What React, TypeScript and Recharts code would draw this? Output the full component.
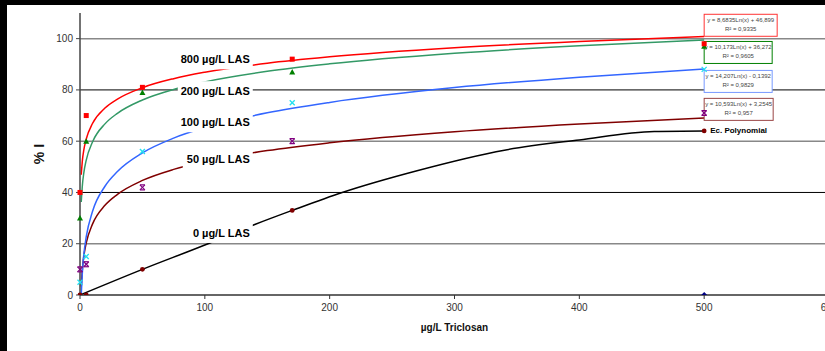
import React from "react";
import {
  ComposedChart,
  Line,
  Scatter,
  XAxis,
  YAxis,
  ReferenceLine,
  ReferenceDot,
} from "recharts";

// measured points (µg/L triclosan vs % inhibition)
const conc = [0, 5, 50, 170, 500];
const las800 = [40, 70, 81, 92, 98];
const las200 = [30, 60, 79, 87, 97];
const las100 = [5, 15, 56, 75, 88];
const las50 = [10, 12, 42, 60, 71];
const las0 = [0, 0, 10, 33, 64];
const ctrlX = [500];
const ctrlY = [0];

// log trendlines
const fitX = [1, 2, 3, 5, 10, 20, 30, 50, 75, 100, 150, 200, 300, 400, 500];
const fit800 = [46.9, 52.92, 56.44, 60.87, 66.89, 72.91, 76.43, 80.87, 84.39, 86.89, 90.41, 92.9, 96.43, 98.92, 100.87];
const fit200 = [36.27, 43.32, 47.45, 52.64, 59.69, 66.75, 70.87, 76.07, 80.19, 83.12, 87.24, 90.17, 94.3, 97.22, 99.49];
const fit100 = [-0.14, 9.71, 15.47, 22.73, 32.57, 42.42, 48.18, 55.44, 61.2, 65.29, 71.05, 75.13, 80.9, 84.97, 88.15];
const fit50 = [3.25, 10.6, 14.89, 20.3, 27.65, 34.99, 39.28, 44.69, 48.99, 52.04, 56.33, 59.38, 63.68, 66.72, 69.09];

// polynomial line for 0 µg/L LAS
const polyX = [0, 50, 100, 140, 170, 210, 270, 340, 400, 460, 500];
const poly0 = [0, 10, 19.5, 27.5, 33, 40, 48.5, 56.5, 60.5, 63.8, 64];

const xTicks = [0, 100, 200, 300, 400, 500, 600];
const yTicks = [0, 20, 40, 60, 80, 100];

const curveNames = ["800 µg/L LAS", "200 µg/L LAS", "100 µg/L LAS", "50 µg/L LAS", "0 µg/L LAS"];
const curveTagX = [136, 136, 136, 136, 136];
const curveTagY = [91.9, 79.5, 67.4, 53, 24.2];
const curveTagW = [75, 75, 75, 70, 64];

const equations = [
  "y = 8,6835Ln(x) + 46,899",
  "y = 10,173Ln(x) + 36,272",
  "y = 14,207Ln(x) - 0,1392",
  "y = 10,593Ln(x) + 3,2545",
];
const rSquared = ["R² = 0,9335", "R² = 0,9605", "R² = 0,9829", "R² = 0,957"];
const eqTop = [109.5, 98.9, 87.6, 76.7];
const eqW = [73, 68, 68, 69];
const eqColors = ["#ff3333", "#008000", "#7799ff", "#994444"];

const FONT = "Arial, 'Liberation Sans', sans-serif";

const pts = (xs: number[], ys: number[]) => xs.map((x, i) => ({ x, y: ys[i] }));

const square = (color: string) => (p: any) => (
  <rect x={p.cx - 2.5} y={p.cy - 2.5} width={5} height={5} fill={color} />
);
const triangle = (p: any) => (
  <polygon points={`${p.cx},${p.cy - 3} ${p.cx + 3},${p.cy + 2.5} ${p.cx - 3},${p.cy + 2.5}`} fill="#008000" />
);
const cross = (p: any) => (
  <g stroke="#22e0f0" strokeWidth={1.3}>
    <line x1={p.cx - 2.5} y1={p.cy - 2.5} x2={p.cx + 2.5} y2={p.cy + 2.5} />
    <line x1={p.cx - 2.5} y1={p.cy + 2.5} x2={p.cx + 2.5} y2={p.cy - 2.5} />
  </g>
);
const star = (p: any) => (
  <g stroke="#800080" strokeWidth={1.2}>
    <line x1={p.cx - 2.5} y1={p.cy - 2.5} x2={p.cx + 2.5} y2={p.cy + 2.5} />
    <line x1={p.cx - 2.5} y1={p.cy + 2.5} x2={p.cx + 2.5} y2={p.cy - 2.5} />
    <line x1={p.cx - 2.5} y1={p.cy - 2.5} x2={p.cx + 2.5} y2={p.cy - 2.5} />
    <line x1={p.cx - 2.5} y1={p.cy + 2.5} x2={p.cx + 2.5} y2={p.cy + 2.5} />
  </g>
);
const dot = (p: any) => <circle cx={p.cx} cy={p.cy} r={2.4} fill="#800000" />;
const diamond = (p: any) => (
  <polygon points={`${p.cx},${p.cy - 3} ${p.cx + 3},${p.cy} ${p.cx},${p.cy + 3} ${p.cx - 3},${p.cy}`} fill="#000080" />
);

const curveTag = (text: string, w: number) => (p: any) => (
  <g>
    <rect x={p.cx - w + 3} y={p.cy - 10} width={w} height={20} fill="#fff" />
    <text x={p.cx} y={p.cy} textAnchor="end" dominantBaseline="central" fontFamily={FONT} fontSize={11} fontWeight="bold" fill="#000">
      {text}
    </text>
  </g>
);

const eqBox = (i: number) => (p: any) => (
  <g>
    <rect x={p.cx} y={p.cy} width={eqW[i]} height={22} fill="#fff" stroke={eqColors[i]} strokeWidth={1} />
    <text x={p.cx + eqW[i] / 2} y={p.cy + 8} textAnchor="middle" fontFamily={FONT} fontSize={6} fill="#444">
      {equations[i]}
    </text>
    <text x={p.cx + eqW[i] / 2} y={p.cy + 17} textAnchor="middle" fontFamily={FONT} fontSize={6} fill="#444">
      {rSquared[i]}
    </text>
  </g>
);

const polyTag = (p: any) => (
  <text x={p.cx + 6} y={p.cy} dominantBaseline="central" fontFamily={FONT} fontSize={8} fontWeight="bold" fill="#000">
    Ec. Polynomial
  </text>
);

export default function App() {
  return (
    <div style={{ position: "fixed", left: 0, top: 0, width: 825, height: 351, overflow: "hidden", background: "#000" }}>
      <div style={{ position: "absolute", left: 7, top: 5, width: 860, height: 346, background: "#fff" }}>
        <ComposedChart width={840} height={346} margin={{ top: 8, right: 18, bottom: 16, left: 33 }}>
          <XAxis
            dataKey="x"
            type="number"
            domain={[0, 600]}
            ticks={xTicks}
            height={40}
            tickSize={4}
            tickMargin={5}
            axisLine={{ stroke: "#333", strokeWidth: 1.5 }}
            tickLine={{ stroke: "#333" }}
            tick={{ fontSize: 10, fill: "#333", fontFamily: FONT }}
            label={{ value: "µg/L Triclosan", position: "insideBottom", offset: 4, fontSize: 10, fontWeight: "bold", fill: "#111", fontFamily: FONT }}
          />
          <YAxis
            type="number"
            domain={[0, 110]}
            allowDataOverflow
            ticks={yTicks}
            width={40}
            tickSize={4}
            tickMargin={3}
            axisLine={{ stroke: "#444", strokeWidth: 1.5 }}
            tickLine={{ stroke: "#444" }}
            tick={{ fontSize: 10, fill: "#333", fontFamily: FONT }}
            label={{ value: "% I", angle: -90, position: "insideLeft", offset: -1, fontSize: 14, fontWeight: "bold", fill: "#111", fontFamily: FONT, style: { textAnchor: "middle" } }}
          />
          {[20, 60, 100].map((v) => (
            <ReferenceLine key={v} y={v} stroke="#888" strokeWidth={1.5} />
          ))}
          {[40, 80].map((v) => (
            <ReferenceLine key={v} y={v} stroke="#000" strokeWidth={1} />
          ))}

          <Line data={pts(polyX, poly0)} dataKey="y" type="monotone" stroke="#000" strokeWidth={1.5} dot={false} isAnimationActive={false} />
          <Line data={pts(fitX, fit50)} dataKey="y" type="monotone" stroke="#800000" strokeWidth={1.5} dot={false} isAnimationActive={false} />
          <Line data={pts(fitX, fit100)} dataKey="y" type="monotone" stroke="#3366ff" strokeWidth={1.5} dot={false} isAnimationActive={false} />
          <Line data={pts(fitX, fit200)} dataKey="y" type="monotone" stroke="#339966" strokeWidth={1.5} dot={false} isAnimationActive={false} />
          <Line data={pts(fitX, fit800)} dataKey="y" type="monotone" stroke="#ff0000" strokeWidth={1.5} dot={false} isAnimationActive={false} />

          {curveNames.map((n, i) => (
            <ReferenceDot key={n} x={curveTagX[i]} y={curveTagY[i]} r={0} ifOverflow="visible" shape={curveTag(n, curveTagW[i])} />
          ))}
          {equations.map((e, i) => (
            <ReferenceDot key={e} x={500} y={eqTop[i]} r={0} ifOverflow="visible" shape={eqBox(i)} />
          ))}
          <ReferenceDot x={500} y={64} r={0} ifOverflow="visible" shape={polyTag} />

          <Scatter data={pts(conc, las0)} dataKey="y" shape={dot} isAnimationActive={false} />
          <Scatter data={pts(ctrlX, ctrlY)} dataKey="y" shape={diamond} isAnimationActive={false} />
          <Scatter data={pts(conc, las50)} dataKey="y" shape={star} isAnimationActive={false} />
          <Scatter data={pts(conc, las100)} dataKey="y" shape={cross} isAnimationActive={false} />
          <Scatter data={pts(conc, las200)} dataKey="y" shape={triangle} isAnimationActive={false} />
          <Scatter data={pts(conc, las800)} dataKey="y" shape={square("#ff0000")} isAnimationActive={false} />
        </ComposedChart>
      </div>
    </div>
  );
}
